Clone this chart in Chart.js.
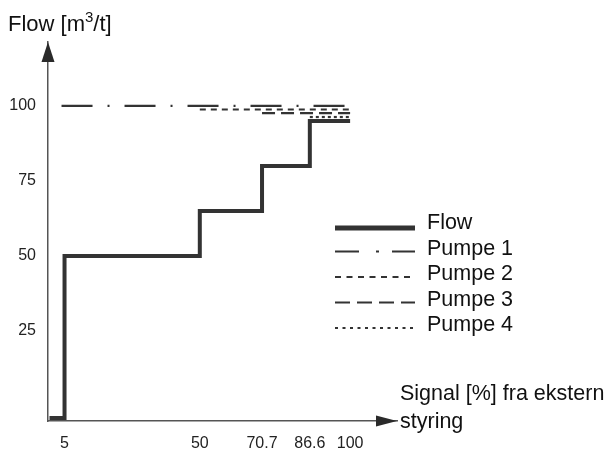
<!DOCTYPE html>
<html>
<head>
<meta charset="utf-8">
<script src="https://cdn.jsdelivr.net/npm/chart.js@4/dist/chart.umd.min.js"></script>
<style>
  html, body { margin: 0; padding: 0; background: #fff; }
  canvas { display: block; }
</style>
</head>
<body>
<canvas id="chart" width="611" height="452"></canvas>
<script>
// Signal thresholds (%) where the total flow steps up, and the flow level reached there
const signalSteps = [0, 5, 50, 70.7, 86.6, 100];
const flowLevels = [-4, 50, 65, 80, 95, 95];

// Individual pump lines: name, signal where each pump comes in, end signal, flow level
const pumpNames = ['Pumpe 1', 'Pumpe 2', 'Pumpe 3', 'Pumpe 4'];
const pumpStart = [4, 50, 70.7, 86.6];
const pumpEnd = [100, 100, 100, 100];
const pumpFlow = [100, 98.8, 97.6, 96.3];

// Axis tick labels
const xTicks = [5, 50, 70.7, 86.6, 100];
const yTicks = [25, 50, 75, 100];

const FONT = '"Liberation Sans", Arial, Helvetica, sans-serif';
const INK = '#333333';

const pumpDash = [[31, 15, 2, 15], [6, 5], [13, 6], [3, 3]];
const pumpLegendDash = [[24, 17, 3, 13], [6, 5.5], [15, 7], [3, 4.5]];

const datasets = [{
  label: 'Flow',
  data: signalSteps.map((s, i) => ({ x: s, y: flowLevels[i] })),
  stepped: 'before',
  borderColor: INK,
  borderWidth: 4,
  borderJoinStyle: 'miter',
  borderCapStyle: 'butt',
  pointRadius: 0,
  fill: false,
  legendDash: [],
  order: 0
}];
pumpNames.forEach((name, i) => {
  datasets.push({
    label: name,
    data: [{ x: pumpStart[i], y: pumpFlow[i] }, { x: pumpEnd[i], y: pumpFlow[i] }],
    borderColor: INK,
    borderWidth: 2.2,
    borderDash: pumpDash[i],
    borderCapStyle: 'butt',
    pointRadius: 0,
    fill: false,
    legendDash: pumpLegendDash[i],
    order: 1
  });
});

const decor = {
  id: 'decor',
  afterDraw(chart) {
    const { ctx, chartArea: a } = chart;
    ctx.save();
    ctx.fillStyle = '#2a2a2a';
    // arrow heads on both axes
    ctx.beginPath();
    ctx.moveTo(a.left, a.top);
    ctx.lineTo(a.left - 6.5, a.top + 20);
    ctx.lineTo(a.left + 6.5, a.top + 20);
    ctx.closePath();
    ctx.fill();
    ctx.beginPath();
    ctx.moveTo(a.right, a.bottom);
    ctx.lineTo(a.right - 21, a.bottom - 5.5);
    ctx.lineTo(a.right - 21, a.bottom + 5.5);
    ctx.closePath();
    ctx.fill();

    // y axis title with superscript
    ctx.fillStyle = '#111';
    ctx.textBaseline = 'alphabetic';
    ctx.textAlign = 'left';
    ctx.font = '22px ' + FONT;
    let x = 8;
    const base = 31;
    ctx.fillText('Flow [m', x, base);
    x += ctx.measureText('Flow [m').width;
    ctx.font = '15px ' + FONT;
    ctx.fillText('3', x, base - 9);
    x += ctx.measureText('3').width;
    ctx.font = '22px ' + FONT;
    ctx.fillText('/t]', x, base);

    // x axis title
    ctx.font = '21.5px ' + FONT;
    ctx.fillText('Signal [%] fra ekstern', a.right + 3, 400);
    ctx.fillText('styring', a.right + 3, 428);

    // legend
    const rowY0 = 229, rowStep = 25.5;
    chart.data.datasets.forEach((ds, i) => {
      const ty = rowY0 + i * rowStep;
      const ly = i === 0 ? ty - 1 : ty - 3;
      ctx.save();
      ctx.strokeStyle = ds.borderColor;
      ctx.lineWidth = i === 0 ? 5 : 2.2;
      ctx.lineCap = 'butt';
      ctx.setLineDash(ds.legendDash);
      ctx.beginPath();
      ctx.moveTo(335, ly);
      ctx.lineTo(415, ly);
      ctx.stroke();
      ctx.restore();
      ctx.fillStyle = '#111';
      ctx.font = '21.5px ' + FONT;
      ctx.fillText(ds.label, 427, ty);
    });
    ctx.restore();
  }
};

new Chart(document.getElementById('chart'), {
  type: 'line',
  data: { datasets },
  plugins: [decor],
  options: {
    responsive: false,
    animation: false,
    devicePixelRatio: 1,
    layout: { padding: { left: 0, top: 42, right: 214, bottom: 0 } },
    plugins: { legend: { display: false }, tooltip: { enabled: false } },
    elements: { line: { tension: 0 } },
    scales: {
      x: {
        type: 'linear',
        min: -0.5,
        max: 115.6,
        afterBuildTicks: s => { s.ticks = xTicks.map(v => ({ value: v })); },
        afterFit: s => { s.height = 31; },
        grid: { display: false, drawTicks: false },
        border: { display: true, color: '#555', width: 1.5 },
        ticks: {
          autoSkip: false,
          maxRotation: 0,
          padding: 13,
          color: '#222',
          font: { family: FONT, size: 16 },
          callback: v => String(v)
        }
      },
      y: {
        type: 'linear',
        min: -5,
        max: 121.3,
        afterBuildTicks: s => { s.ticks = yTicks.map(v => ({ value: v })); },
        afterFit: s => { s.width = 48; },
        grid: { display: false, drawTicks: false },
        border: { display: true, color: '#555', width: 1.5 },
        ticks: {
          padding: 12,
          color: '#222',
          font: { family: FONT, size: 16 },
          callback: v => String(v)
        }
      }
    }
  }
});
</script>
</body>
</html>
